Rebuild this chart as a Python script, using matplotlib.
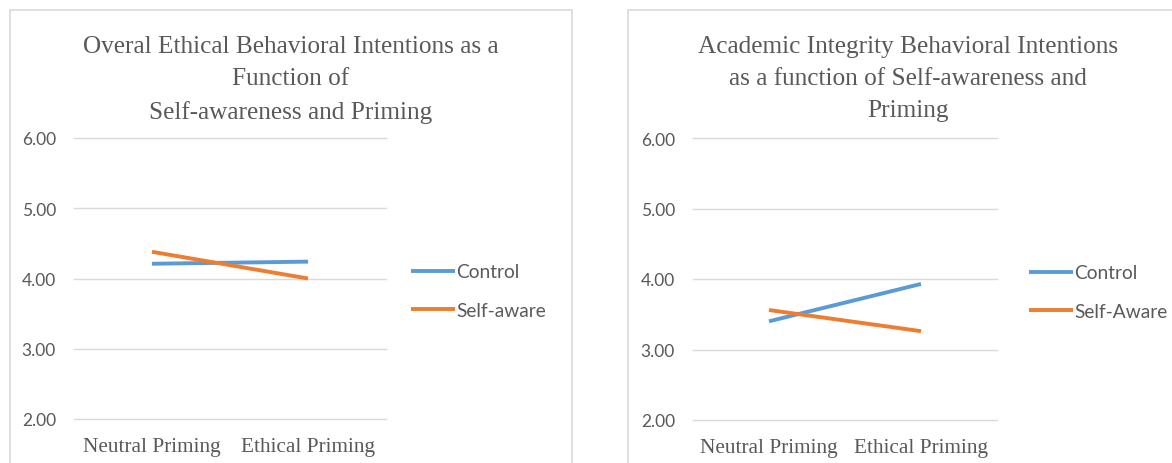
import matplotlib
matplotlib.use("Agg")
import matplotlib.pyplot as plt
from matplotlib.patches import Rectangle

# Data
categories = ["Neutral Priming", "Ethical Priming"]
series_names_left = ["Control", "Self-aware"]
series_names_right = ["Control", "Self-Aware"]
overall_control = [4.21, 4.24]
overall_selfaware = [4.38, 4.00]
academic_control = [3.40, 3.93]
academic_selfaware = [3.56, 3.26]
yticks = [2.00, 3.00, 4.00, 5.00, 6.00]
title_left = "Overal Ethical Behavioral Intentions as a\nFunction of\nSelf-awareness and Priming"
title_right = "Academic Integrity Behavioral Intentions\nas a function of Self-awareness and\nPriming"

W, H = 1172, 464
BLUE = "#5B9BD5"
ORANGE = "#ED7D31"
GRID = "#D9D9D9"
TEXT = "#595959"
SERIF = "Liberation Serif"
SANS = "Lato"

fig = plt.figure(figsize=(W / 100, H / 100), dpi=100)
fig.patch.set_facecolor("white")


def px_box(x0, y0, x1, y1):
    return [x0 / W, 1 - y1 / H, (x1 - x0) / W, (y1 - y0) / H]


# Chart frames
for (x0, y0, x1, y1) in [(10, 11, 572, 470), (628, 11, 1180, 470)]:
    fig.patches.append(Rectangle((x0 / W, 1 - y1 / H), (x1 - x0) / W, (y1 - y0) / H,
                                 transform=fig.transFigure, fill=False,
                                 edgecolor=GRID, linewidth=1.2))


def draw_panel(box, ctrl, aware, names, title, title_x, legend_xy):
    ax = fig.add_axes(px_box(*box))
    x = list(range(len(categories)))
    ax.plot(x, ctrl, color=BLUE, lw=2.8, solid_capstyle="butt", label=names[0])
    ax.plot(x, aware, color=ORANGE, lw=2.8, solid_capstyle="butt", label=names[1])
    ax.set_xlim(-0.5, len(categories) - 0.5)
    ax.set_ylim(min(yticks), max(yticks))
    ax.set_yticks(yticks)
    ax.set_yticklabels([f"{v:.2f}" for v in yticks], fontfamily=SANS,
                       fontsize=12.5, color=TEXT)
    ax.set_xticks(x)
    ax.set_xticklabels(categories, fontfamily=SERIF, fontsize=15.3, color=TEXT)
    ax.tick_params(axis="both", length=0)
    ax.tick_params(axis="y", pad=13)
    ax.tick_params(axis="x", pad=13)
    for s in ax.spines.values():
        s.set_visible(False)
    ax.yaxis.grid(True, color=GRID, lw=1.0)
    ax.set_axisbelow(True)
    for gl in ax.yaxis.get_gridlines():
        gl.set_clip_on(False)
    ax.patch.set_alpha(0)
    fig.text(title_x / W, 1 - 36 / H, title, ha="center", va="top",
             fontfamily=SERIF, fontsize=18.2, color=TEXT, linespacing=1.6)
    leg = ax.legend(loc="center left",
                    bbox_to_anchor=(legend_xy[0] / W, 1 - legend_xy[1] / H),
                    bbox_transform=fig.transFigure, frameon=False,
                    prop={"family": SANS, "size": 13.8}, labelcolor=TEXT,
                    handlelength=2.3, handletextpad=0.08, labelspacing=1.1,
                    borderaxespad=0, borderpad=0)
    for line in leg.get_lines():
        line.set_linewidth(2.8)
    return ax


draw_panel((74, 139, 386, 420), overall_control, overall_selfaware,
           series_names_left, title_left, 291, (411, 292))
draw_panel((693, 139, 997, 421), academic_control, academic_selfaware,
           series_names_right, title_right, 908, (1029, 293))

fig.savefig("out.png", dpi=100, facecolor="white")
